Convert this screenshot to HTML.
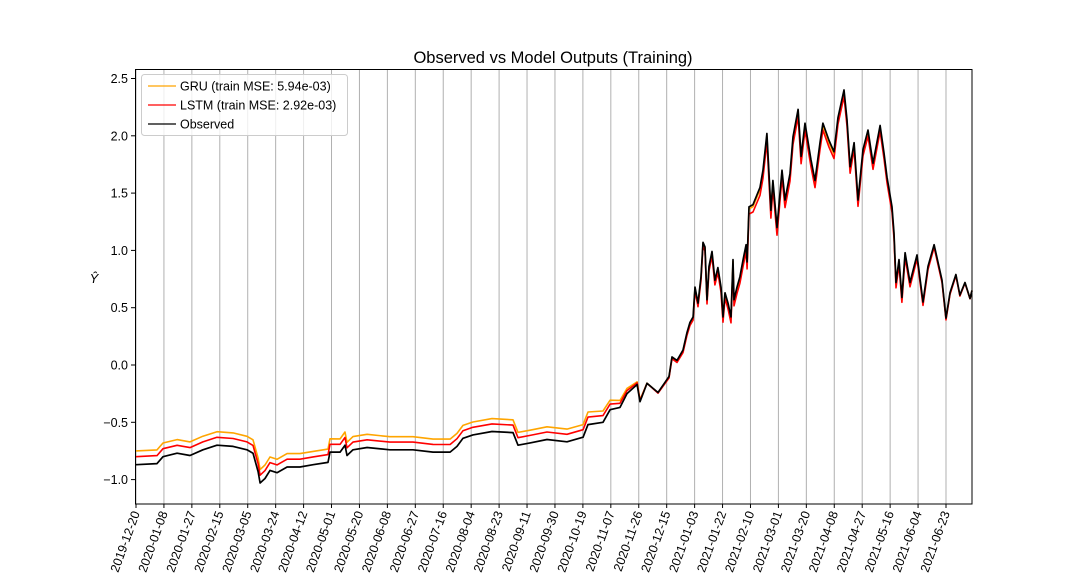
<!DOCTYPE html>
<html><head><meta charset="utf-8"><style>
html,body{margin:0;padding:0;background:#fff;}
svg{display:block;font-family:"Liberation Sans","DejaVu Sans",sans-serif;}
</style></head><body>
<svg id="chart" width="1080" height="576" viewBox="0 0 1080 576">
<text x="553" y="63" text-anchor="middle" font-size="16.5">Observed vs Model Outputs (Training)</text>
<text x="94" y="283" text-anchor="middle" font-size="13" font-style="italic">Ŷ</text>
<g id="grid"></g>
<g id="series"></g>
<rect x="135.5" y="69.5" width="836.5" height="434.5" fill="none" stroke="#000" stroke-width="1"/>
<g id="axes"></g>
<g>
<rect x="141.5" y="74.5" width="206" height="61" rx="3" fill="#fff" fill-opacity="0.8" stroke="#ccc"/>
<line x1="148" y1="86" x2="176" y2="86" stroke="orange" stroke-width="1.2"/>
<text x="180" y="90.5" font-size="12.5">GRU (train MSE: 5.94e-03)</text>
<line x1="148" y1="105" x2="176" y2="105" stroke="red" stroke-width="1.2"/>
<text x="180" y="109.5" font-size="12.5">LSTM (train MSE: 2.92e-03)</text>
<line x1="148" y1="124" x2="176" y2="124" stroke="#000" stroke-width="1.2"/>
<text x="180" y="128.5" font-size="12.5">Observed</text>
</g>
</svg>
<script>
// time axis units: 1 unit = 0.9667 calendar days (tick spacing 19 days = 19.655 units)
const obsDays=[0,14.8,19,28.9,38,47.1,57,68.3,78.1,82.3,85.9,87.3,90.8,94.3,99.2,106.3,115.4,124.6,135.1,136.5,143.6,147.1,148.5,152.7,162.6,178.7,194.9,209,221,225.9,230.1,237.1,250.5,265.3,268.8,277.3,289.2,303.3,314.6,318.1,328.6,333.6,340.6,345.5,352.6,354.7,359.6,367.3,372.3,375.1,377.2,380.7,384.9,387.7,389.8,392,393.4,395.5,397.6,399,400.4,401.8,403.2,405.3,407.4,409.5,411.7,413.1,414.5,416.6,418.7,420.1,420.8,422.9,425,427.2,429.3,430,431.4,434.2,439.1,441.2,444,446.8,448.2,451.1,454.6,456.7,460.2,462.3,465.9,468,470.8,475,477.8,481.3,483.4,487.7,491.2,494,498.2,500.3,502.5,505.3,508.1,511.6,515.1,518.6,523.6,526.4,528.5,532,533.4,534.8,536.9,539,541.2,544.7,549.6,553.8,557.3,561.6,567.2,570,572.8,577,579.8,583.4,586.9,588.3];
const obsValues=[-0.87,-0.86,-0.80,-0.77,-0.79,-0.74,-0.70,-0.71,-0.74,-0.77,-0.93,-1.03,-0.99,-0.92,-0.94,-0.89,-0.89,-0.87,-0.85,-0.76,-0.76,-0.70,-0.79,-0.74,-0.72,-0.74,-0.74,-0.76,-0.76,-0.71,-0.64,-0.61,-0.58,-0.59,-0.70,-0.68,-0.65,-0.67,-0.63,-0.52,-0.50,-0.39,-0.37,-0.25,-0.17,-0.32,-0.16,-0.24,-0.15,-0.10,0.07,0.04,0.13,0.28,0.37,0.42,0.68,0.54,0.77,1.07,1.03,0.57,0.86,0.99,0.74,0.85,0.68,0.42,0.63,0.54,0.42,0.92,0.57,0.68,0.77,0.92,1.05,0.90,1.38,1.40,1.55,1.70,2.02,1.35,1.61,1.20,1.70,1.44,1.67,1.99,2.23,1.82,2.11,1.79,1.61,1.94,2.11,1.96,1.86,2.16,2.40,2.14,1.73,1.94,1.44,1.88,2.05,1.76,2.09,1.85,1.64,1.38,1.15,0.72,0.92,0.59,0.98,0.72,0.96,0.55,0.86,1.05,0.74,0.41,0.63,0.79,0.61,0.72,0.58,0.65];
const biasDays=[0,325,360,440,530,590];
const gruBias=[0.12,0.11,0.0,-0.02,-0.02,0];
const lstmBias=[0.07,0.065,0.0,-0.07,-0.05,0];
const tickLabels=["2019-12-20","2020-01-08","2020-01-27","2020-02-15","2020-03-05","2020-03-24","2020-04-12","2020-05-01","2020-05-20","2020-06-08","2020-06-27","2020-07-16","2020-08-04","2020-08-23","2020-09-11","2020-09-30","2020-10-19","2020-11-07","2020-11-26","2020-12-15","2021-01-03","2021-01-22","2021-02-10","2021-03-01","2021-03-20","2021-04-08","2021-04-27","2021-05-16","2021-06-04","2021-06-23"];
const tickStep=19.655;
const yTicks=[-1.0,-0.5,0.0,0.5,1.0,1.5,2.0,2.5];

const X=d=>136+d*27/19;
const Y=v=>365-v*114.6;
const NS="http://www.w3.org/2000/svg";
function mk(tag,attrs,parent){const e=document.createElementNS(NS,tag);for(const k in attrs)e.setAttribute(k,attrs[k]);parent.appendChild(e);return e;}
function interp(d,xs,ys){if(d<=xs[0])return ys[0];for(let i=1;i<xs.length;i++){if(d<=xs[i]){const t=(d-xs[i-1])/(xs[i]-xs[i-1]);return ys[i-1]+t*(ys[i]-ys[i-1]);}}return ys[ys.length-1];}
const grid=document.getElementById('grid'),axes=document.getElementById('axes'),series=document.getElementById('series');
tickLabels.forEach((lab,i)=>{
  const x=X(i*tickStep);
  const g=mk('line',{x1:x,y1:69,x2:x,y2:504,stroke:'#b0b0b0','stroke-width':1},grid);
  
  
  const t=mk('line',{x1:x,y1:504,x2:x,y2:508,stroke:'#000'},axes);
  
  
  const l=mk('text',{x:0,y:0,'font-size':12.5,'text-anchor':'end',transform:`translate(${x+4},${513}) rotate(-70)`},axes);
  l.textContent=lab;
  
  
});
yTicks.forEach(v=>{
  const y=Y(v);
  const t=mk('line',{x1:131,y1:y,x2:135,y2:y,stroke:'#000'},axes);
  
  
  const l=mk('text',{x:128,y:y+4.5,'font-size':12.5,'text-anchor':'end'},axes);
  l.textContent=(v<0?'\u2212':'')+Math.abs(v).toFixed(1);
  
  
});
function path(vals,color,w,name){
  const d=obsDays.map((dd,i)=>(i?'L':'M')+X(dd).toFixed(1)+' '+Y(vals[i]).toFixed(1)).join(' ');
  const p=mk('path',{d:d,fill:'none',stroke:color,'stroke-width':w,'stroke-linejoin':'round'},series);
  
  
}
const gruVals=obsValues.map((v,i)=>v+interp(obsDays[i],biasDays,gruBias));
const lstmVals=obsValues.map((v,i)=>v+interp(obsDays[i],biasDays,lstmBias));
path(gruVals,'orange',1.6,'gru-line');
path(lstmVals,'red',1.6,'lstm-line');
path(obsValues,'#000',1.7,'observed-line');
</script>
</body></html>
